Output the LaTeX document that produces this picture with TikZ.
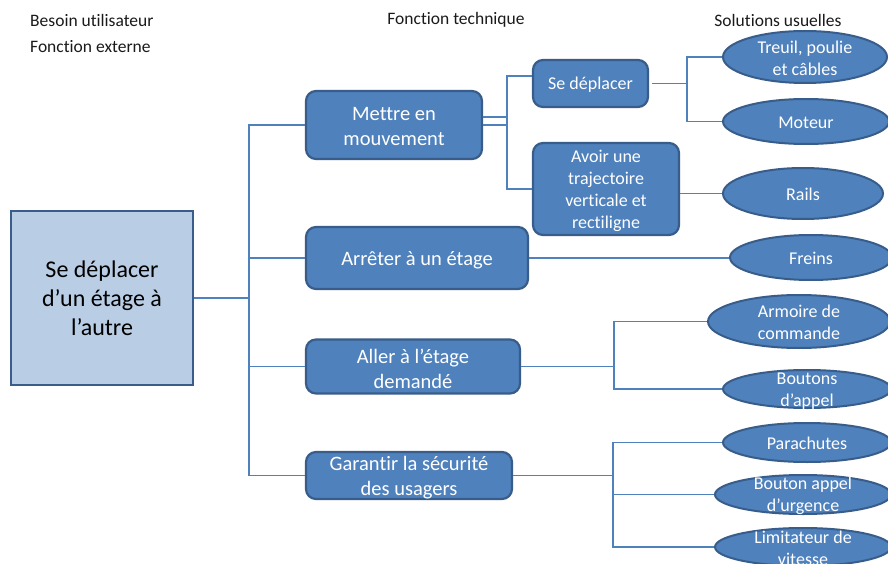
\documentclass[tikz,border=0pt]{standalone}
\usepackage{fontspec}
\setmainfont{Carlito}[Ligatures={NoCommon}]
\usetikzlibrary{shapes.geometric,calc}
\definecolor{boxfill}{HTML}{4F81BD}
\definecolor{boxline}{HTML}{385D8A}
\definecolor{mainfill}{HTML}{B9CDE5}
\definecolor{wire}{HTML}{4F81BD}
\definecolor{hdr}{HTML}{1A1A1A}
\tikzset{
  hdrtext/.style={inner sep=0pt, text=hdr, font=\fontsize{17.5}{21}\selectfont},
  mainbox/.style={draw=boxline, line width=2.4pt, fill=mainfill, inner sep=0pt, align=center,
    font=\fontsize{24}{29}\selectfont, text=black},
  fbox/.style={draw=boxline, line width=2.2pt, fill=boxfill, rounded corners=10pt, inner sep=0pt},
  ftext/.style={inner sep=0pt, align=center, text=white, font=\fontsize{20.5}{25}\selectfont},
  ftexts/.style={ftext, font=\fontsize{18}{22}\selectfont},
  sol/.style={ellipse, draw=boxline, line width=2pt, fill=boxfill, inner sep=0pt},
  soltext/.style={inner sep=0pt, align=center, text=white, font=\fontsize{18}{22}\selectfont},
  wireline/.style={draw=wire, line width=1.2pt}
}
\begin{document}
\begin{tikzpicture}[x=1pt,y=-1pt]
\useasboundingbox (0,0) rectangle (888,564);
\clip (0,0) rectangle (888,564);
\fill[white] (0,0) rectangle (888,564);

% headers
\node[hdrtext, anchor=west] (h1) at (30,20) {Besoin utilisateur};
\node[hdrtext, anchor=west] (h2) at (30,47) {Fonction externe};
\node[hdrtext] (h3) at (456,20) {Fonction technique};
\node[hdrtext] (h4) at (778,20) {Solutions usuelles};

% main box
\node[mainbox, minimum width=182pt, minimum height=174pt] (main) at (102,298)
  {Se déplacer\\d’un étage à\\l’autre};

% technical functions
\node[fbox, minimum width=176pt, minimum height=68pt] (mettre) at (394,125) {};
\node[ftext] (mettret) at ($(mettre)+(0,1.5)$) {Mettre en\\mouvement};
\node[fbox, minimum width=222pt, minimum height=62pt] (arreter) at (417,258) {};
\node[ftext] (arretert) at ($(arreter)+(0,2)$) {Arrêter à un étage};
\node[fbox, minimum width=214pt, minimum height=54pt] (aller) at (413,366.5) {};
\node[ftext] (allert) at ($(aller)+(0,2)$) {Aller à l’étage\\demandé};
\node[fbox, minimum width=206pt, minimum height=47pt] (garantir) at (409,475.5) {};
\node[ftext] (garantirt) at ($(garantir)+(0,2)$) {Garantir la sécurité\\des usagers};

\node[fbox, minimum width=115pt, minimum height=47pt] (sedep) at (590.5,83.5) {};
\node[ftexts] (sedept) at ($(sedep)+(0,1.5)$) {Se déplacer};
\node[fbox, minimum width=146pt, minimum height=92pt] (avoir) at (606,189) {};
\node[ftexts] (avoirt) at ($(avoir)+(0,1.5)$) {Avoir une\\trajectoire\\verticale et\\rectiligne};

% solutions
\node[sol, minimum width=164pt, minimum height=52pt] (treuil) at (805,57) {};
\node[soltext] (treuilt) at ($(treuil)+(0,1)$) {Treuil, poulie\\et câbles};
\node[sol, minimum width=166pt, minimum height=45pt] (moteur) at (806,121.5) {};
\node[soltext] (moteurt) at ($(moteur)+(0,1)$) {Moteur};
\node[sol, minimum width=160pt, minimum height=51pt] (rails) at (803,193.5) {};
\node[soltext] (railst) at ($(rails)+(0,1)$) {Rails};
\node[sol, minimum width=162pt, minimum height=45pt] (freins) at (811,257.5) {};
\node[soltext] (freinst) at ($(freins)+(0,1)$) {Freins};
\node[sol, minimum width=182pt, minimum height=53pt] (armoire) at (799,321.5) {};
\node[soltext] (armoiret) at ($(armoire)+(0,1)$) {Armoire de\\commande};
\node[sol, minimum width=168pt, minimum height=38pt] (boutons) at (807,389) {};
\node[soltext] (boutonst) at ($(boutons)+(0,2.5)$) {Boutons\\d’appel};
\node[sol, minimum width=168pt, minimum height=39pt] (parach) at (807,442.5) {};
\node[soltext] (paracht) at ($(parach)+(0,1)$) {Parachutes};
\node[sol, minimum width=176pt, minimum height=39pt] (urgence) at (803,494.5) {};
\node[soltext] (urgencet) at ($(urgence)+(0,1)$) {Bouton appel\\d’urgence};
\node[sol, minimum width=176pt, minimum height=38pt] (limit) at (803,547) {};
\node[soltext] (limitt) at ($(limit)+(0,1)$) {Limitateur de\\vitesse};

% connectors
\coordinate (j0) at (249,298);
\draw[wireline] (main.east) -- (j0) |- (mettre.west);
\draw[wireline] (j0) |- (arreter.west);
\draw[wireline] (j0) |- (aller.west);
\draw[wireline] (j0) |- (garantir.west);

\coordinate (jm) at (507,125);
\draw[wireline] ([yshift=8pt]mettre.east) -| (jm) |- ([yshift=7.5pt]sedep.west);
\draw[wireline] (mettre.east) -- (jm) |- (avoir.west);

\coordinate (js) at (687,83.5);
\draw[wireline] ([xshift=3pt]sedep.east) -- (js) |- (treuil.west);
\draw[wireline] (js) |- (moteur.west);

\draw[wireline] (avoir.east |- rails.west) -- (rails.west);
\draw[wireline] (arreter.east) -- (arreter.east -| freins.west);

\coordinate (ja) at (614,366.5);
\draw[wireline] (aller.east) -- (ja) |- (armoire.west);
\draw[wireline] (ja) |- (boutons.west);

\coordinate (jg) at (613,475.5);
\draw[wireline] (garantir.east) -- (jg) |- (parach.west);
\draw[wireline] (jg) |- (urgence.west);
\draw[wireline] (jg) |- (limit.west);
\end{tikzpicture}
\end{document}
